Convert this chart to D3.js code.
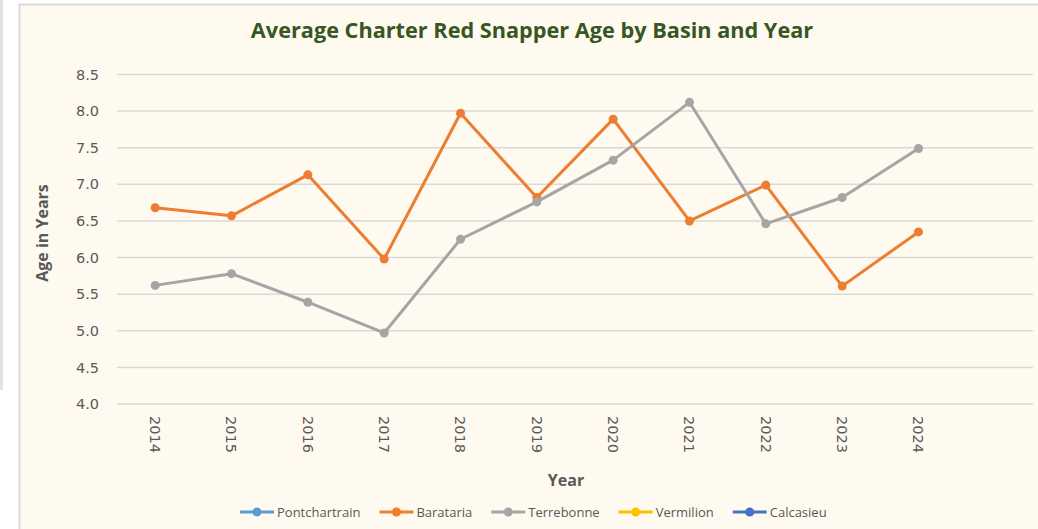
<!DOCTYPE html>
<html>
<head>
<meta charset="utf-8">
<script src="https://cdn.jsdelivr.net/npm/d3@7"></script>
<style>
  body { margin: 0; background: #fff; }
  svg { display: block; }
</style>
</head>
<body>
<svg width="1038" height="529"></svg>
<script>
// chart data
var years = ["2014","2015","2016","2017","2018","2019","2020","2021","2022","2023","2024",""];
var seriesNames = ["Pontchartrain","Barataria","Terrebonne","Vermilion","Calcasieu"];
var seriesColors = ["#5B9BD5","#ED7D31","#A5A5A5","#FFC000","#4472C4"];
var pontchartrain = [];
var barataria = [6.68, 6.57, 7.13, 5.98, 7.97, 6.82, 7.89, 6.50, 6.99, 5.61, 6.35];
var terrebonne = [5.62, 5.78, 5.39, 4.97, 6.25, 6.76, 7.33, 8.12, 6.46, 6.82, 7.49];
var vermilion = [];
var calcasieu = [];
var yTicks = [4.0, 4.5, 5.0, 5.5, 6.0, 6.5, 7.0, 7.5, 8.0, 8.5];

var allSeries = [pontchartrain, barataria, terrebonne, vermilion, calcasieu];

var svg = d3.select("svg");

// outer frame bits
svg.append("rect").attr("x", 0).attr("y", 0).attr("width", 3).attr("height", 390)
   .attr("fill", "#E3E3E3");
svg.append("rect").attr("x", 19.5).attr("y", 4.5).attr("width", 1030).attr("height", 530)
   .attr("fill", "#FEFAEF").attr("stroke", "#D9D9D9").attr("stroke-width", 2);

var x = d3.scaleBand().domain(years).range([117, 1033]);
var y = d3.scaleLinear().domain([4, 8.5]).range([404, 74.5]);

// grid
svg.append("g")
   .selectAll("line")
   .data(yTicks).enter()
   .append("line")
   .attr("x1", 117).attr("x2", 1033)
   .attr("y1", function(d) { return y(d); })
   .attr("y2", function(d) { return y(d); })
   .attr("stroke", "#D9D9D9").attr("stroke-width", 1.5);

// y axis labels
var yAxis = svg.append("g")
   .attr("transform", "translate(117,0)")
   .call(d3.axisLeft(y).tickValues(yTicks).tickFormat(d3.format(".1f")).tickSize(0).tickPadding(18));
yAxis.select(".domain").remove();
yAxis.selectAll("text")
   .attr("font-family", "DejaVu Sans, Verdana, sans-serif")
   .attr("font-size", "14.5px")
   .attr("fill", "#595959");

// x axis labels (rotated)
var xAxis = svg.append("g")
   .attr("transform", "translate(0,404)")
   .call(d3.axisBottom(x).tickSize(0));
xAxis.select(".domain").remove();
xAxis.selectAll("text")
   .attr("font-family", "DejaVu Sans, Verdana, sans-serif")
   .attr("font-size", "14.5px")
   .attr("fill", "#595959")
   .attr("transform", "rotate(90)")
   .attr("x", 12).attr("y", 0).attr("dy", "0.35em")
   .attr("text-anchor", "start");

// titles
svg.append("text")
   .attr("x", 532).attr("y", 38)
   .attr("text-anchor", "middle")
   .attr("font-family", "Open Sans, sans-serif")
   .attr("font-weight", "bold")
   .attr("font-size", "21.7px")
   .attr("fill", "#375623")
   .text("Average Charter Red Snapper Age by Basin and Year");

svg.append("text")
   .attr("transform", "translate(48,233) rotate(-90)")
   .attr("text-anchor", "middle")
   .attr("font-family", "Open Sans, sans-serif")
   .attr("font-weight", "bold")
   .attr("font-size", "16px")
   .attr("fill", "#595959")
   .text("Age in Years");

svg.append("text")
   .attr("x", 566).attr("y", 486)
   .attr("text-anchor", "middle")
   .attr("font-family", "Open Sans, sans-serif")
   .attr("font-weight", "bold")
   .attr("font-size", "16px")
   .attr("fill", "#595959")
   .text("Year");

// lines + markers
var line = d3.line()
   .x(function(d, i) { return x(years[i]) + x.bandwidth() / 2; })
   .y(function(d) { return y(d); });

allSeries.forEach(function(vals, s) {
   if (!vals.length) return;
   var g = svg.append("g");
   g.append("path")
      .datum(vals)
      .attr("d", line)
      .attr("fill", "none")
      .attr("stroke", seriesColors[s])
      .attr("stroke-width", 3)
      .attr("stroke-linejoin", "round");
   g.selectAll("circle")
      .data(vals).enter()
      .append("circle")
      .attr("cx", function(d, i) { return x(years[i]) + x.bandwidth() / 2; })
      .attr("cy", function(d) { return y(d); })
      .attr("r", 4.5)
      .attr("fill", seriesColors[s]);
});

// legend
var legend = svg.append("g").attr("transform", "translate(240,512)");
var lx = 0;
seriesNames.forEach(function(name, i) {
   var item = legend.append("g").attr("transform", "translate(" + lx + ",0)");
   item.append("line").attr("x1", 0).attr("x2", 34).attr("y1", 0).attr("y2", 0)
      .attr("stroke", seriesColors[i]).attr("stroke-width", 3);
   item.append("circle").attr("cx", 17).attr("cy", 0).attr("r", 4.5).attr("fill", seriesColors[i]);
   var t = item.append("text")
      .attr("x", 37).attr("y", 0).attr("dy", "0.35em")
      .attr("font-family", "Open Sans, sans-serif")
      .attr("font-size", "13px")
      .attr("fill", "#595959")
      .text(name);
   lx += 37 + t.node().getComputedTextLength() + 19;
});
</script>
</body>
</html>
